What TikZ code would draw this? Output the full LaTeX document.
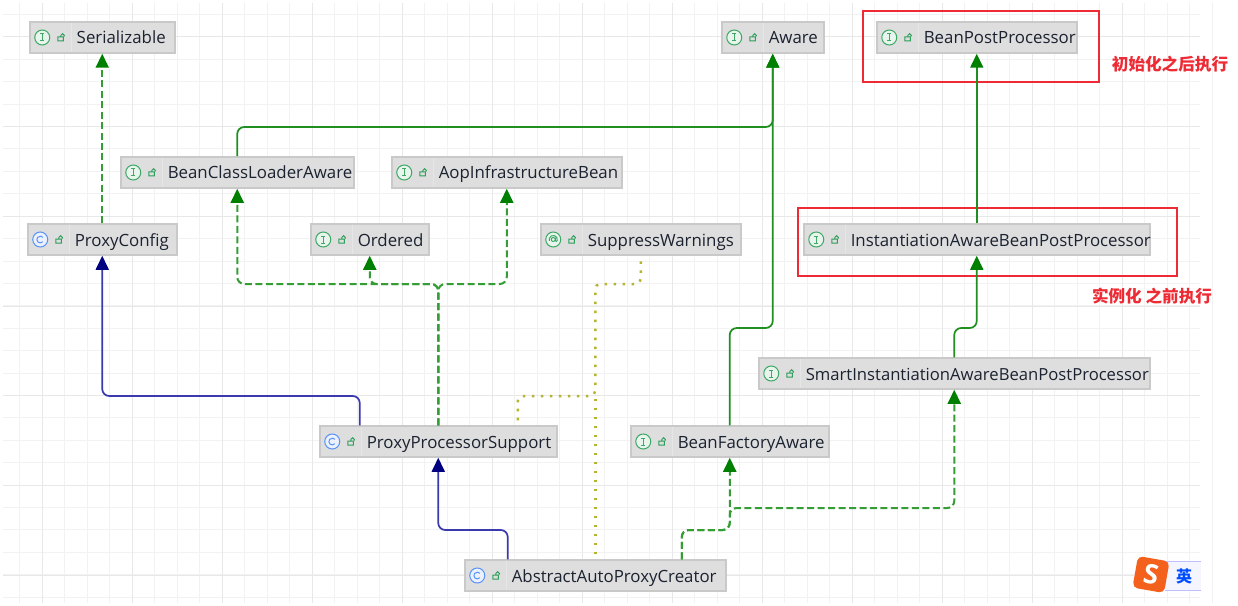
\documentclass[tikz,border=0pt]{standalone}
\usepackage{fontspec}
\setmainfont{Open Sans}
\newfontfamily\cjkfont{Noto Sans CJK SC}
\usepackage{tikz}
\usetikzlibrary{arrows.meta}

\newdimen\px
\px=.75pt
\definecolor{boxfill}{HTML}{DEDEDE}
\definecolor{boxline}{HTML}{C9C9C9}
\definecolor{boxsep}{HTML}{E6E6E6}
\definecolor{inkcolor}{HTML}{1B2230}
\definecolor{ifacegreen}{HTML}{3FA866}
\definecolor{lockgreen}{HTML}{2E9E5B}
\definecolor{classblue}{HTML}{5B93F5}
\definecolor{tipgreen}{HTML}{008000}
\definecolor{linegreen}{HTML}{349E34}
\definecolor{darkgreen}{HTML}{1F8F1F}
\definecolor{tipnavy}{HTML}{000080}
\definecolor{linenavy}{HTML}{3A3AAE}
\definecolor{dotolive}{HTML}{B4B430}
\definecolor{noteRed}{HTML}{EE2B35}
\definecolor{sogouorange}{HTML}{F4611C}

\tikzset{
  gridmajor/.style={draw=black!9,line width=1\px},
  gridminor/.style={draw=black!5,line width=1\px},
  lockicon/.pic={
    \draw[lockgreen,line width=1\px] (28,-.5) rectangle (33.5,3.5) (31,-.5) -- (31,-2) arc (180:360:1.8) -- (34.6,-1);
    \draw[boxsep,line width=1\px] (42,-16) -- (42,16);
  },
  ifaceicon/.pic={
    \draw[ifacegreen,fill=white!88!ifacegreen,line width=1\px] (12.5,0) circle (7.5);
    \draw[ifacegreen,line width=1\px] (10.5,-3.5) -- (14.5,-3.5) (12.5,-3.5) -- (12.5,3.5) (10.5,3.5) -- (14.5,3.5);
  },
  classicon/.pic={
    \draw[classblue,fill=white!88!classblue,line width=1\px] (12.5,0) circle (7.5);
    \draw[classblue,line width=1\px] (15.1,2.2) arc (40:320:3.4);
  },
  annoticon/.pic={
    \draw[ifacegreen,fill=white!88!ifacegreen,line width=1\px] (12.5,0) circle (7.5);
    \draw[ifacegreen,line width=1\px] (12.5,0) circle (2) (14.5,-2) -- (14.5,1) arc (180:0:1) arc (14:-200:4.1);
  },
  umlbox/.style={draw=boxline,fill=boxfill,line width=1.5\px,inner sep=0pt,minimum height=31\px,anchor=west,
    font=\fontsize{16.85\px}{20\px}\selectfont,text=inkcolor,text height=15\px,text depth=2\px,
    execute at begin node={\hbox to #1\px\bgroup\hspace*{47\px}},execute at end node={\hss\egroup}},
  ifacebox/.style={umlbox=#1,path picture={
    \pic at (path picture bounding box.west) {ifaceicon};
    \pic at (path picture bounding box.west) {lockicon};}},
  classbox/.style={umlbox=#1,path picture={
    \pic at (path picture bounding box.west) {classicon};
    \pic at (path picture bounding box.west) {lockicon};}},
  annotbox/.style={umlbox=#1,path picture={
    \pic at (path picture bounding box.west) {annoticon};
    \pic at (path picture bounding box.west) {lockicon};}},
  extendsline/.style={linenavy,line width=1.7\px,rounded corners=7\px,-{Triangle[length=10.5pt,width=9.75pt,color=tipnavy]}},
  implline/.style={linegreen,line width=2\px,rounded corners=7\px,dash pattern=on 5.25pt off 2.6pt,-{Triangle[length=10.5pt,width=9.75pt,color=tipgreen]}},
  superline/.style={darkgreen,line width=1.7\px,rounded corners=7\px,-{Triangle[length=10.5pt,width=9.75pt,color=tipgreen]}},
  usesline/.style={dotolive,line width=2.5\px,rounded corners=5\px,dash pattern=on 1.9pt off 4.85pt},
  noteframe/.style={draw=noteRed,line width=2\px},
  notetext/.style={text=noteRed,font=\cjkfont\bfseries\fontsize{16.6\px}{18\px}\selectfont,inner sep=0pt}
}

\begin{document}
\begin{tikzpicture}[x=.75pt,y=-.75pt]
          \useasboundingbox[fill=white] (0,0) rectangle (1238,606);

          \foreach \k in {0,...,53} \draw[gridminor] ({19.6+22.5*\k},3) -- ({19.6+22.5*\k},603);
          \foreach \k in {0,...,26} \draw[gridminor] (3,{14.6+22.4*\k}) -- (1200,{14.6+22.4*\k});
          \foreach \k in {0,...,12} \draw[gridmajor] ({42+90*\k},3) -- ({42+90*\k},603);
          \foreach \k in {0,...,6} \draw[gridmajor] (3,{37+89.7*\k}) -- (1200,{37+89.7*\k});

          \draw[noteframe] (863,11) rectangle (1099,82);
          \draw[noteframe] (798,208) rectangle (1177,276);

          \node[ifacebox=145] (serializable) at (29,37.5) {Serializable};
          \node[ifacebox=102] (aware) at (721,37.5) {Aware};
          \node[ifacebox=200] (beanpost) at (876,37.5) {BeanPostProcessor};
          \node[ifacebox=233] (classloader) at (120,172.5) {BeanClassLoaderAware};
          \node[ifacebox=230] (aopinfra) at (391,172.5) {AopInfrastructureBean};
          \node[classbox=149] (proxyconfig) at (27,239.5) {ProxyConfig};
          \node[ifacebox=118] (ordered) at (310,239.5) {Ordered};
          \node[annotbox=200] (suppress) at (540,239.5) {SuppressWarnings};
          \node[ifacebox=346] (instaware) at (803,239.5) {InstantiationAwareBeanPostProcessor};
          \node[ifacebox=391,font=\fontsize{16.65\px}{20\px}\selectfont] (smartinst) at (758,373.5) {SmartInstantiationAwareBeanPostProcessor};
          \node[classbox=237] (processor) at (319,441.5) {ProxyProcessorSupport};
          \node[ifacebox=198] (factoryaware) at (630,441.5) {BeanFactoryAware};
          \node[classbox=261] (autocreator) at (464,575.5) {AbstractAutoProxyCreator};

          \draw[implline] (proxyconfig.north) -- (serializable.south);
          \draw[extendsline] ([xshift=-78.5\px]processor.north) |- (proxyconfig.south |- 0,396) -- (proxyconfig.south);
          \draw[superline] (classloader.north) |- (aware.south |- 0,127) -- (aware.south);
          \draw[superline] (factoryaware.north) |- (aware.south |- 0,328) -- (aware.south);
          \draw[implline] (processor.north) |- (classloader.south |- 0,284) -- (classloader.south);
          \draw[implline] (processor.north) |- (ordered.south |- 0,284) -- (ordered.south);
          \draw[implline] (processor.north) |- (aopinfra.south |- 0,284) -- (aopinfra.south);
          \draw[usesline] ([xshift=79.5\px,yshift=5\px]processor.north) |- (autocreator.north |- 0,396) -- (autocreator.north |- 0,284) -| (suppress.south);
          \draw[usesline] ([yshift=5\px]autocreator.north) -- (autocreator.north |- 0,396);
          \draw[extendsline] ([xshift=-87.5\px]autocreator.north) |- (processor.south |- 0,530) -- (processor.south);
          \draw[implline] ([xshift=86.5\px]autocreator.north) |- (factoryaware.south |- 0,530) -- (factoryaware.south);
          \draw[implline] ([xshift=86.5\px]autocreator.north) |- (factoryaware.south |- 0,530) -- (factoryaware.south |- 0,508) -| (smartinst.south);
          \draw[superline] (smartinst.north) |- (instaware.south |- 0,328) -- (instaware.south);
          \draw[superline] (instaware.north) -- (beanpost.south);

          \node[notetext] (afterinit) at (1170,64) {初始化之后执行};
          \node[notetext] (beforeinst) at (1152,296) {实例化 之前执行};

          \fill[blue!4] (1165,561) rectangle (1201,590);
          \draw[blue!25,line width=1\px] (1165,561) -- (1201,561) (1165,590) -- (1201,590);
          \node[fill=sogouorange,text=white,rounded corners=5\px,rotate=-10,minimum size=32\px,inner sep=0pt,font=\bfseries\fontsize{27\px}{27\px}\selectfont] (sogou) at (1151,574.5) {S};
          \node[text=blue!70!cyan,inner sep=0pt,font=\cjkfont\bfseries\fontsize{16\px}{16\px}\selectfont] (langmark) at (1184,576) {英};
        \end{tikzpicture}
\end{document}
